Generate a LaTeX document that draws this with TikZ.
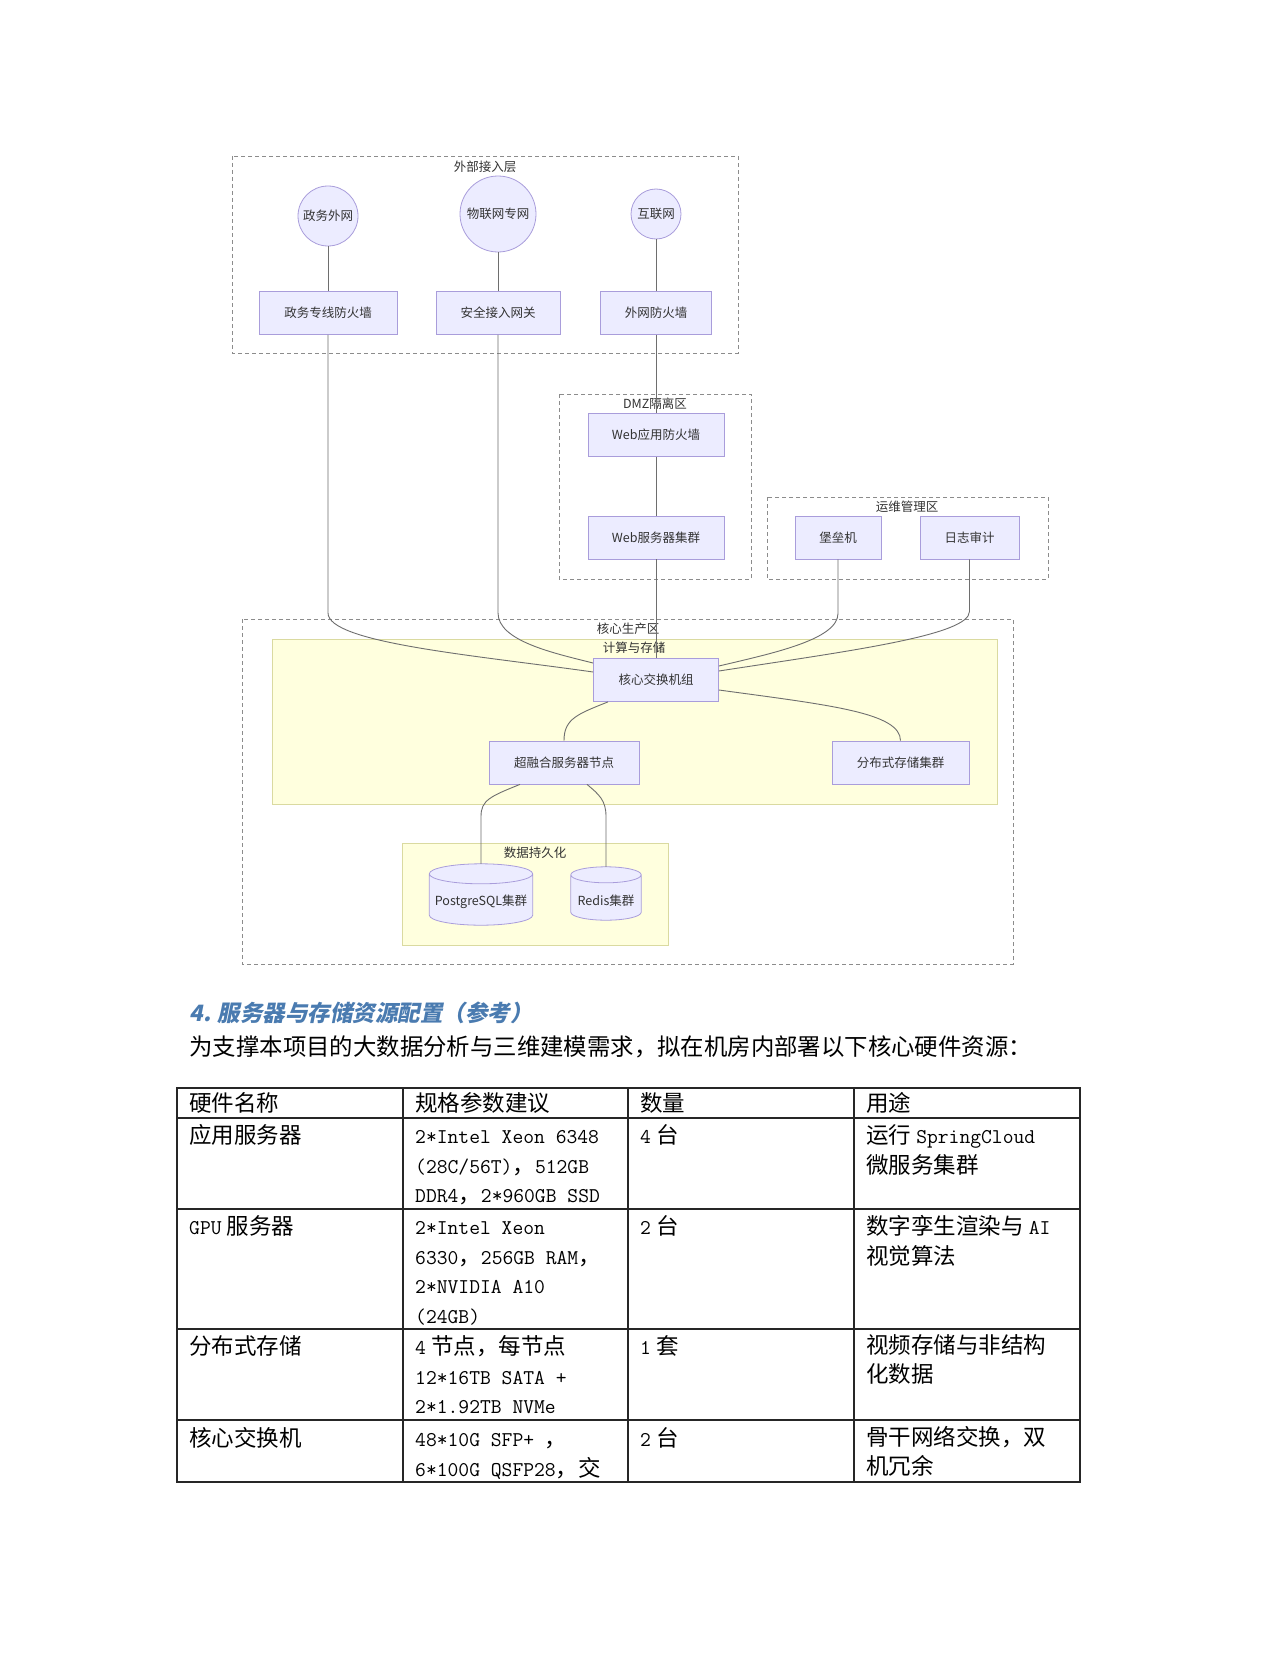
\documentclass[tikz,border=0pt]{standalone}
\usepackage{fontspec}
\setmainfont{Noto Sans CJK SC}
\newfontfamily\headfont[FakeSlant=0.2,BoldFeatures={FakeSlant=0.2}]{Noto Sans CJK SC}
\usetikzlibrary{calc}

\definecolor{boxfill}{HTML}{ECECFF}
\definecolor{boxline}{HTML}{A99DDB}
\definecolor{grpfill}{HTML}{FFFFDE}
\definecolor{grpline}{HTML}{DADAA0}
\definecolor{zoneline}{HTML}{8C8C8C}
\definecolor{wirecol}{HTML}{6E6E6E}
\definecolor{txt}{HTML}{333333}
\definecolor{headblue}{HTML}{4A7BB0}

\newcommand\lt[1]{{\ttfamily\fontsize{21}{29.5}\selectfont\strut #1}}%latin part of a table cell
\newcommand\drawdb[3]{%node, y radius, label
  \path[draw=boxline,fill=boxfill,line width=0.8pt]
    let \p1=(#1.north west),\p2=(#1.north east),\n1={(\x2-\x1)/2} in
    ([yshift=-#2]#1.north west) -- ([yshift=#2]#1.south west)
    arc[start angle=180,end angle=360,x radius=\n1,y radius=#2]
    -- ([yshift=-#2]#1.north east)
    arc[start angle=0,end angle=180,x radius=\n1,y radius=#2] -- cycle
    ([yshift=-#2]#1.north west) arc[start angle=180,end angle=360,x radius=\n1,y radius=#2];
  \node (#1txt) at ([yshift=-7pt]#1.center) {#3};}

\begin{document}
\begin{tikzpicture}[x=1pt,y=-1pt,
    every node/.style={font=\fontsize{12.5}{15}\selectfont,text=txt},
    net/.style={circle,draw=boxline,fill=boxfill,line width=0.8pt,inner sep=0pt},%network entries
    dev/.style={draw=boxline,fill=boxfill,line width=0.8pt,minimum height=43pt},
    zone/.style={draw=zoneline,dash pattern=on 4pt off 3pt,line width=0.8pt},
    grp/.style={draw=grpline,fill=grpfill,line width=0.8pt},
    wire/.style={draw=wirecol,line width=0.9pt},
    cell/.style={anchor=north west,inner sep=0pt,align=left,text=black,
                 font=\fontsize{22.5}{29.5}\selectfont,execute at begin node=\strut},
    tbl/.style={draw=black!85,line width=1.1pt}
  ]
\fill[white] (0,0) rectangle (1280,1656);
\useasboundingbox (0,0) rectangle (1280,1656);

% zones
\draw[zone] (232,156) rectangle (738,353);
\node (extname) at (485,167) {外部接入层};
\draw[zone] (559,394) rectangle (751,579);
\node (dmzname) at (655,404) {DMZ隔离区};
\draw[zone] (767,497) rectangle (1048,579);
\node (opsname) at (907,507) {运维管理区};
\draw[zone,fill=white] (242,619) rectangle (1013,964);
\node (corename) at (628,629) {核心生产区};
\draw[grp] (272,639) rectangle (997,804);
\node (calcname) at (634,648) {计算与存储};
\draw[grp] (402,843) rectangle (668,945);
\node (dataname) at (535,853) {数据持久化};

% devices
\node[net,minimum size=60pt] (gov) at (328,216) {政务外网};
\node[net,minimum size=76pt] (iot) at (498,214) {物联网专网};
\node[net,minimum size=50pt] (inet) at (656,214) {互联网};
\node[dev,minimum width=138pt] (fwgov) at (328,313) {政务专线防火墙};
\node[dev,minimum width=124pt] (gw) at (498,313) {安全接入网关};
\node[dev,minimum width=111pt] (fwext) at (656,313) {外网防火墙};
\node[dev,minimum width=136pt] (waf) at (656,435) {Web应用防火墙};
\node[dev,minimum width=136pt] (web) at (656,537.5) {Web服务器集群};
\node[dev,minimum width=86pt] (bastion) at (838,537.5) {堡垒机};
\node[dev,minimum width=99pt] (audit) at (969.5,537.5) {日志审计};
\node[dev,minimum width=125pt] (core) at (656,680) {核心交换机组};
\node[dev,minimum width=150pt] (hci) at (564,762.5) {超融合服务器节点};
\node[dev,minimum width=137pt] (dfs) at (900.5,762.5) {分布式存储集群};
\node[minimum width=103pt,minimum height=61pt,inner sep=0pt] (pg) at (481,894.5) {};
\node[minimum width=70pt,minimum height=53pt,inner sep=0pt] (redis) at (606,893.5) {};
\drawdb{pg}{10pt}{PostgreSQL集群}
\drawdb{redis}{8pt}{Redis集群}

% links
\draw[wire] (gov) -- (fwgov);
\draw[wire] (iot) -- (gw);
\draw[wire] (inet) -- (fwext);
\draw[wire] (fwext) -- (waf);
\draw[wire] (waf) -- (web);
\draw[wire] (web) -- (core);
\draw[wire] (fwgov.south) -- ++(0,278) .. controls +(0,30) and +(-120,-17) .. ([yshift=8pt]core.west);
\draw[wire] (gw.south) -- ++(0,278) .. controls +(0,28) and +(-40,-10) .. ([yshift=17pt]core.west);
\draw[wire] (bastion.south) -- ++(0,54) .. controls +(0,26) and +(55,-13) .. ([yshift=14pt]core.east);
\draw[wire] (audit.south) -- ++(0,52) .. controls +(0,24) and +(130,-20) .. ([yshift=9pt]core.east);
\draw[wire] ([yshift=-10pt]core.east) .. controls +(110,15) and +(0,-28) .. (dfs.north);
\draw[wire] ([xshift=-48pt]core.south) .. controls +(-30,12) and +(0,-22) .. (hci.north);
\draw[wire] ([xshift=-44pt]hci.south) .. controls +(-30,12) and +(0,-16) .. ++(-39,32) -- (pg.north);
\draw[wire] ([xshift=23pt]hci.south) .. controls +(12,10) and +(0,-16) .. ++(19,32) -- (redis.north);

% text below the diagram
\node[anchor=west,text=headblue,font=\headfont\bfseries\fontsize{22.5}{26}\selectfont] (sectitle) at (186,1013) {4. 服务器与存储资源配置（参考）};
\node[anchor=west,text=black,font=\fontsize{23.4}{28}\selectfont] (intro) at (186,1047) {为支撑本项目的大数据分析与三维建模需求，拟在机房内部署以下核心硬件资源：};

% table
\draw[tbl] (177,1088) rectangle (1080,1482);
\foreach \x in {403,628,854} \draw[tbl] (\x,1088) -- (\x,1482);
\foreach \y in {1118,1209,1329,1420} \draw[tbl] (177,\y) -- (1080,\y);
\node[cell] (h1) at (189,1091) {硬件名称};
\node[cell] (h2) at (415,1091) {规格参数建议};
\node[cell] (h3) at (640,1091) {数量};
\node[cell] (h4) at (866,1091) {用途};
\node[cell] (a1) at (189,1123) {应用服务器};
\node[cell] (a2) at (415,1123) {\lt{2*Intel Xeon 6348}\\\lt{(28C/56T)}，\lt{512GB}\\\lt{DDR4}，\lt{2*960GB SSD}};
\node[cell] (a3) at (640,1123) {\lt{4} 台};
\node[cell] (a4) at (866,1123) {运行 \lt{SpringCloud}\\微服务集群};
\node[cell] (b1) at (189,1214) {\lt{GPU} 服务器};
\node[cell] (b2) at (415,1214) {\lt{2*Intel Xeon}\\\lt{6330}，\lt{256GB RAM}，\\\lt{2*NVIDIA A10}\\\lt{(24GB)}};
\node[cell] (b3) at (640,1214) {\lt{2} 台};
\node[cell] (b4) at (866,1214) {数字孪生渲染与 \lt{AI}\\视觉算法};
\node[cell] (c1) at (189,1334) {分布式存储};
\node[cell] (c2) at (415,1334) {\lt{4} 节点，每节点\\\lt{12*16TB SATA +}\\\lt{2*1.92TB NVMe}};
\node[cell] (c3) at (640,1334) {\lt{1} 套};
\node[cell] (c4) at (866,1334) {视频存储与非结构\\化数据};
\node[cell] (d1) at (189,1426) {核心交换机};
\node[cell] (d2) at (415,1426) {\lt{48*10G SFP+ }，\\\lt{6*100G QSFP28}，交};
\node[cell] (d3) at (640,1426) {\lt{2} 台};
\node[cell] (d4) at (866,1426) {骨干网络交换，双\\机冗余};
\end{tikzpicture}
\end{document}
